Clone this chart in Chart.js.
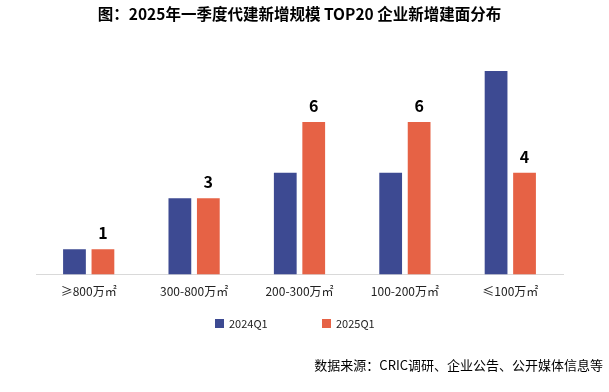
<!DOCTYPE html>
<html>
<head>
<meta charset="utf-8">
<script src="https://cdn.jsdelivr.net/npm/chart.js@4"></script>
<style>
  html, body { margin: 0; padding: 0; background: #fff; }
  #wrap { width: 609px; height: 392px; }
</style>
</head>
<body>
<div id="wrap"><canvas id="chart" width="609" height="392"></canvas></div>
<script>
var categories = ['≥800万㎡', '300-800万㎡', '200-300万㎡', '100-200万㎡', '≤100万㎡'];
var seriesNames = ['2024Q1', '2025Q1'];
var values2024 = [1, 3, 4, 4, 8];
var values2025 = [1, 3, 6, 6, 4];
var colors = ['#3D4A92', '#E66245'];

var FONT = '"Noto Sans CJK SC", "Noto Sans", sans-serif';

// labels above the 2025 bars + legend + source line
var extras = {
    id: 'extras',
    afterDatasetsDraw: function (chart) {
        var ctx = chart.ctx;
        ctx.save();
        ctx.fillStyle = '#000';
        ctx.font = 'bold 16px ' + FONT;
        ctx.textAlign = 'center';
        ctx.textBaseline = 'bottom';
        var meta = chart.getDatasetMeta(1);
        meta.data.forEach(function (bar, i) {
            ctx.fillText(values2025[i], bar.x, bar.y - 8);
        });
        ctx.restore();
    },
    afterDraw: function (chart) {
        var ctx = chart.ctx;
        ctx.save();
        // legend
        ctx.font = '11px ' + FONT;
        ctx.textBaseline = 'middle';
        ctx.textAlign = 'left';
        var lx = [215, 322];
        var ly = 323;
        seriesNames.forEach(function (name, i) {
            ctx.fillStyle = colors[i];
            ctx.fillRect(lx[i], ly - 4, 9, 9);
            ctx.fillStyle = '#222';
            ctx.fillText(name, lx[i] + 14, ly + 1);
        });
        // source
        ctx.font = '13px ' + FONT;
        ctx.textAlign = 'right';
        ctx.fillStyle = '#000';
        ctx.fillText('数据来源：CRIC调研、企业公告、公开媒体信息等', 603, 365);
        ctx.restore();
    }
};

var ctx = document.getElementById('chart').getContext('2d');

var chart = new Chart(ctx, {
    type: 'bar',
    data: {
        labels: categories,
        datasets: [{
            label: seriesNames[0],
            data: values2024,
            backgroundColor: colors[0]
        }, {
            label: seriesNames[1],
            data: values2025,
            backgroundColor: colors[1]
        }]
    },
    options: {
        responsive: false,
        animation: false,
        categoryPercentage: 0.54,
        barPercentage: 0.8,
        layout: {
            padding: { left: 36, right: 46, bottom: 83 }
        },
        plugins: {
            legend: { display: false },
            tooltip: { enabled: false },
            title: {
                display: true,
                text: '图：2025年一季度代建新增规模 TOP20 企业新增建面分布',
                color: '#000',
                font: { family: FONT, size: 15.5, weight: 'bold' },
                padding: { top: 5, bottom: 22 }
            }
        },
        scales: {
            x: {
                grid: { display: false, drawTicks: false },
                border: { display: true, color: '#D9D9D9', width: 1 },
                ticks: {
                    color: '#222',
                    padding: 10,
                    font: { family: FONT, size: 12 }
                }
            },
            y: {
                display: false,
                min: 0,
                max: 9
            }
        }
    },
    plugins: [extras]
});
</script>
</body>
</html>
